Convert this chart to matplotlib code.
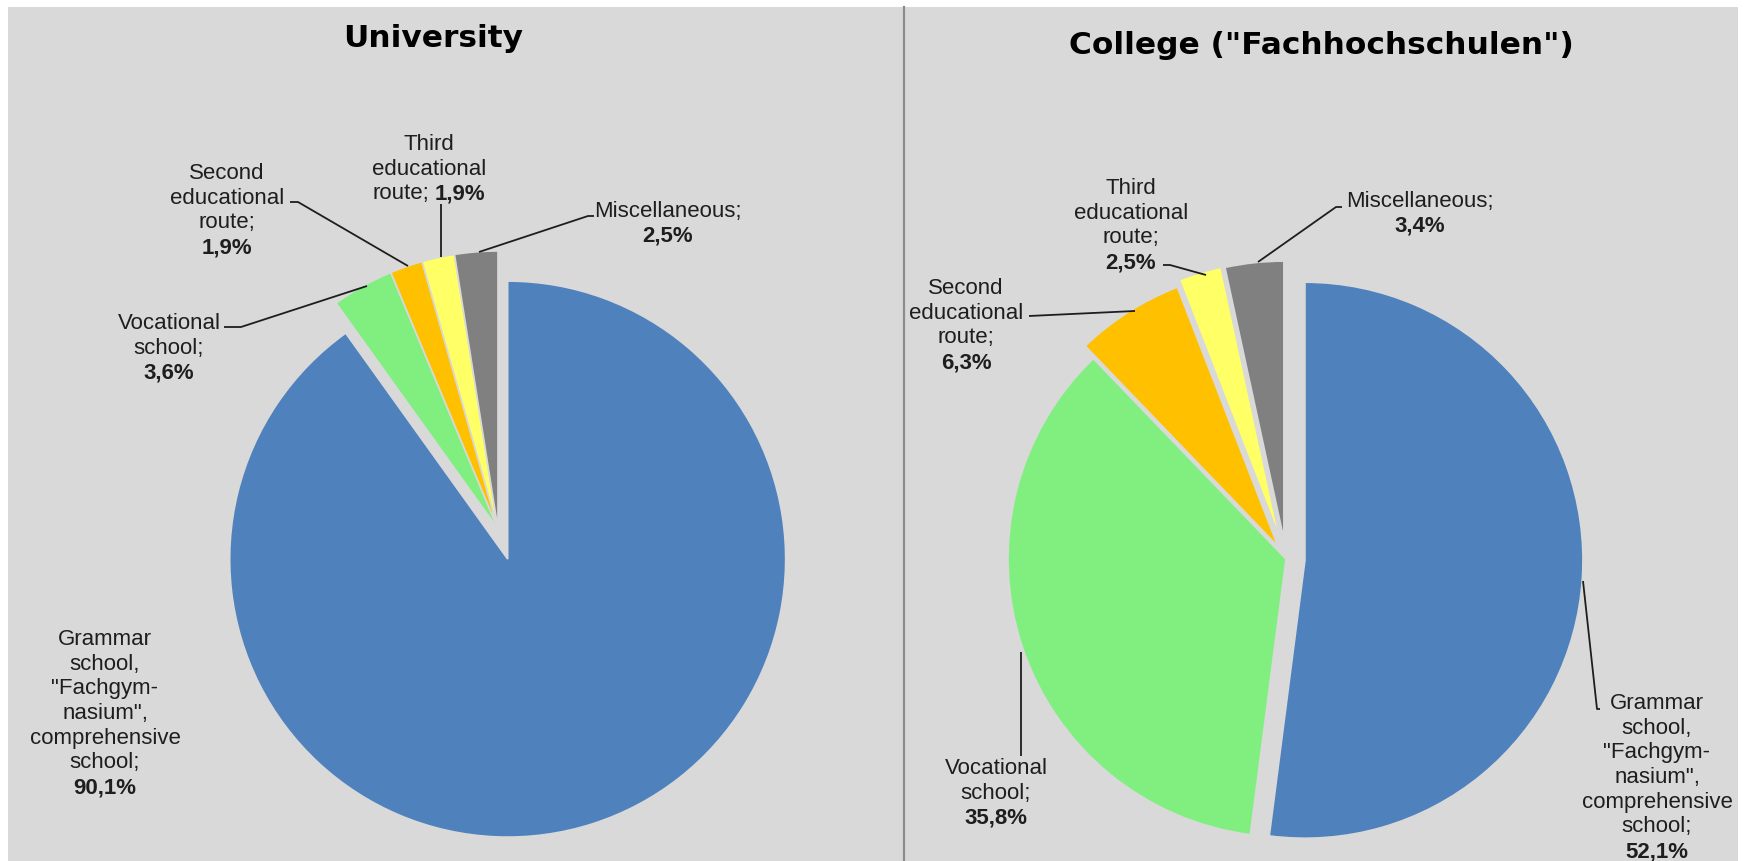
import matplotlib
matplotlib.use("Agg")
import matplotlib.pyplot as plt
from matplotlib.patches import Rectangle

# ---------------- data ----------------
categories = ["Grammar school, \"Fachgym-nasium\", comprehensive school",
              "Vocational school", "Second educational route",
              "Third educational route", "Miscellaneous"]
university_values = [90.1, 3.6, 1.9, 1.9, 2.5]
college_values = [52.1, 35.8, 6.3, 2.5, 3.4]
titles = ["University", 'College ("Fachhochschulen")']
slice_colors = ["#4F81BD", "#80EF80", "#FFC000", "#FFFF66", "#808080"]

# ---------------- layout ----------------
W, H = 1746, 862
BG = "#D9D9D9"
TXT = "#1E1E1E"
LABEL_FONT = "Liberation Sans"
LABEL_SIZE = 16
PITCH = 24.7


def Y(y):
    return H - y


def pct(v):
    return f"{v:.1f}".replace(".", ",") + "%"


fig = plt.figure(figsize=(W / 100, H / 100), dpi=100)
fig.patch.set_facecolor("white")
ax = fig.add_axes([0, 0, 1, 1])
ax.set_xlim(0, W)
ax.set_ylim(0, H)
ax.axis("off")

ax.add_patch(Rectangle((8, 0), 1730, H - 8, facecolor=BG, edgecolor="none", zorder=0))
ax.plot([904, 904], [0, H - 8], color="#8C8C8C", lw=1.6, zorder=1)

# pies (Excel style: start at 12 o'clock, clockwise)
wp = dict(edgecolor=BG, linewidth=1.2)
ax.pie(university_values, colors=slice_colors, startangle=90, counterclock=False,
       radius=278, center=(498, Y(530)), explode=[31.6, 0, 0, 0, 0],
       wedgeprops=wp, frame=True)
ax.pie(college_values, colors=slice_colors, startangle=90, counterclock=False,
       radius=278, center=(1286, Y(560)), explode=[19, 0, 15, 21, 20],
       wedgeprops=wp, frame=True)
ax.set_xlim(0, W)
ax.set_ylim(0, H)
ax.set_aspect("auto")

# titles
ax.text(433, Y(47), titles[0], ha="center", va="baseline", fontsize=22.5,
        fontweight="bold", family="DejaVu Sans", color="black")
ax.text(1321, Y(54), titles[1], ha="center", va="baseline", fontsize=22.5,
        fontweight="bold", family="DejaVu Sans", color="black")

fig.canvas.draw()
renderer = fig.canvas.get_renderer()


def draw_label(cx, y0, name_lines, value, inline):
    lines = [[(s, False)] for s in name_lines]
    if inline:
        lines[-1].append((value, True))
    else:
        lines.append([(value, True)])
    for i, parts in enumerate(lines):
        yb = Y(y0 + i * PITCH + 7)
        arts = []
        for s, b in parts:
            t = ax.text(0, yb, s, ha="left", va="baseline", fontsize=LABEL_SIZE,
                        family=LABEL_FONT, fontweight="bold" if b else "normal",
                        color=TXT)
            arts.append(t)
        widths = [a.get_window_extent(renderer).width for a in arts]
        gap = 5
        total = sum(widths) + gap * (len(arts) - 1)
        x = cx - total / 2
        for a, w in zip(arts, widths):
            a.set_x(x)
            x += w + gap


grammar_lines = ["Grammar", "school,", "\"Fachgym-", "nasium\",", "comprehensive", "school;"]
voc_lines = ["Vocational", "school;"]
second_lines = ["Second", "educational", "route;"]
third_lines = ["Third", "educational", "route;"]
misc_lines = ["Miscellaneous;"]

# University labels
draw_label(105, 638, grammar_lines, pct(university_values[0]), False)
draw_label(169, 322, voc_lines, pct(university_values[1]), False)
draw_label(227, 172, second_lines, pct(university_values[2]), False)
draw_label(429, 143, third_lines, pct(university_values[3]), True)
draw_label(668, 210, misc_lines, pct(university_values[4]), False)

# College labels
draw_label(1657, 702, grammar_lines, pct(college_values[0]), False)
draw_label(996, 767, voc_lines, pct(college_values[1]), False)
draw_label(966, 287, second_lines, pct(college_values[2]), False)
draw_label(1131, 187, third_lines, pct(college_values[3]), False)
draw_label(1420, 200, misc_lines, pct(college_values[4]), False)


def leader(pts):
    xs = [p[0] for p in pts]
    ys = [Y(p[1]) for p in pts]
    ax.plot(xs, ys, color="#1E1E1E", lw=1.3, zorder=5, solid_capstyle="butt")


leader([(290, 203), (298, 203), (408, 267)])
leader([(441, 205), (441, 258)])
leader([(594, 217), (588, 217), (479, 253)])
leader([(224, 328), (241, 328), (367, 287)])

leader([(1163, 266), (1170, 266), (1206, 276)])
leader([(1342, 208), (1336, 208), (1258, 263)])
leader([(1029, 317), (1135, 312)])
leader([(1021, 757), (1021, 653)])
leader([(1600, 710), (1597, 710), (1583, 582)])

fig.savefig("out.png", dpi=100, facecolor=fig.get_facecolor())
